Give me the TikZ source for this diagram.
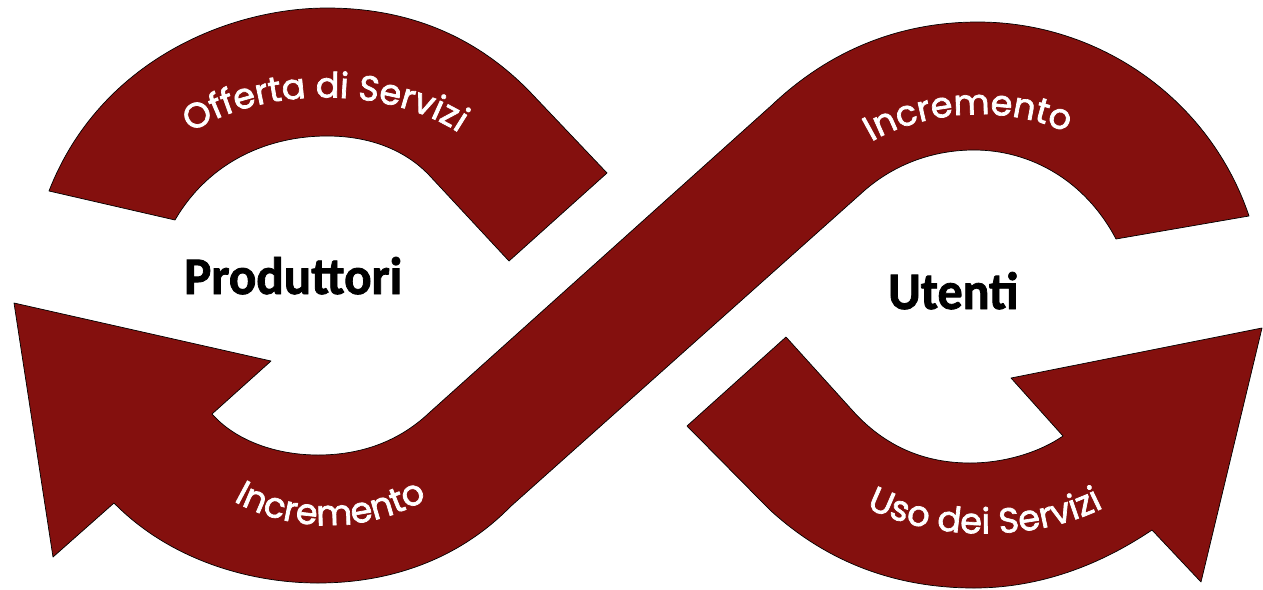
\documentclass[tikz,border=0pt]{standalone}
\usepackage{fontspec}
\setmainfont{Carlito}
\newfontfamily\geofont[FakeBold=2]{Poppins}
\newfontfamily\headfont[FakeBold=1.6]{Carlito Bold}
\usetikzlibrary{decorations.text}
\definecolor{bandred}{RGB}{132,16,14}
\newcommand\arclabelfont{\geofont\fontsize{35}{35}\selectfont\color{white}}
\begin{document}
\begin{tikzpicture}[x=1pt,y=-1pt,
  band/.style={fill=bandred,draw=black,line width=0.7pt,line join=round},
  arclabel/.style={decorate,decoration={text along path,text align=center,text={|\arclabelfont|#1}}},
  bigtext/.style={anchor=base west,inner sep=0pt,font=\headfont}]
\useasboundingbox (0,0) rectangle (1263,589);
% top-left arc
\path[band] (49,191) .. controls (100,60) and (230,8) .. (327,8)
  .. controls (420,8) and (485,45) .. (531,93) -- (607,173) -- (509,261) -- (429,175)
  .. controls (405,150) and (370,136) .. (327,136)
  .. controls (270,136) and (210,160) .. (175,220) -- cycle;
% S band with arrow
\path[band] (1249,216) .. controls (1210,100) and (1100,22) .. (978,22)
  .. controls (900,22) and (830,50) .. (772,105) -- (429,413)
  .. controls (395,445) and (355,455) .. (318,455)
  .. controls (275,455) and (235,440) .. (212,414) -- (271,361) -- (14,303) -- (53,557) -- (114,503)
  .. controls (170,560) and (250,583) .. (318,583)
  .. controls (400,583) and (465,553) .. (510,507) -- (865,190)
  .. controls (900,160) and (940,150) .. (974,150)
  .. controls (1030,150) and (1085,180) .. (1116,239) -- cycle;
% bottom-right arrow
\path[band] (786,337) -- (852,410) .. controls (885,447) and (925,463) .. (970,463)
  .. controls (1005,463) and (1040,452) .. (1063,436) -- (1011,378) -- (1262,328) -- (1201,582) -- (1152,530)
  .. controls (1100,565) and (1040,588) .. (974,588)
  .. controls (900,588) and (830,565) .. (770,510) -- (687,426) -- cycle;
% curved labels
\path[arclabel={Offerta di Servizi}] (170,150) .. controls (240,80) and (410,80) .. (480,150);
\path[arclabel={Incremento}] (835,172) .. controls (895,100) and (1045,95) .. (1105,160);
\path[arclabel={Incremento}] (200,476) .. controls (268,542) and (392,542) .. (460,473);
\path[arclabel={Uso dei Servizi}] (825,478) .. controls (897,552) and (1073,552) .. (1145,478);
% big labels
\node[bigtext] (prod) at (184,294) {\resizebox{218pt}{37pt}{Produttori}};
\node[bigtext] (utenti) at (888,309) {\resizebox{130pt}{37pt}{Utenti}};
\end{tikzpicture}
\end{document}
